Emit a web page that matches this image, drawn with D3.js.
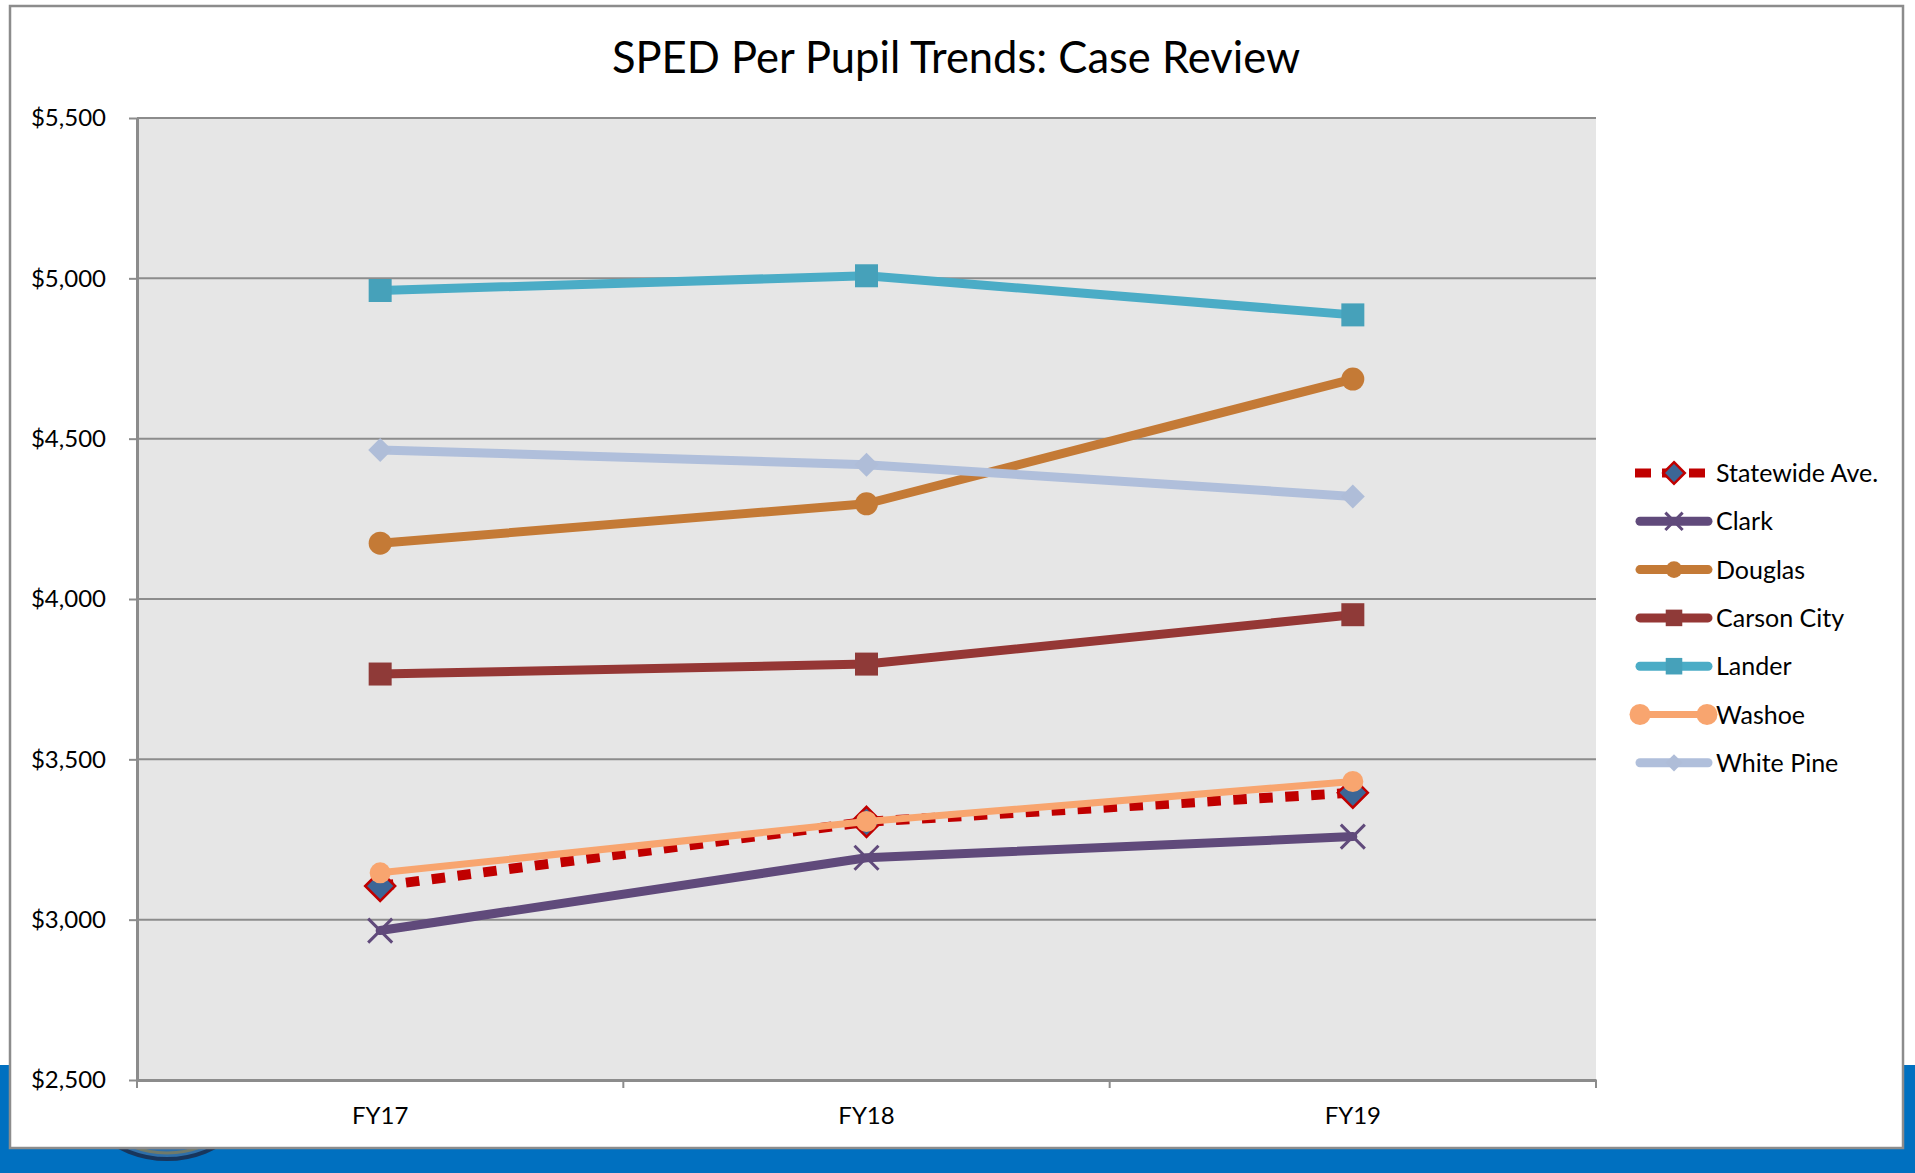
<!DOCTYPE html>
<html>
<head>
<meta charset="utf-8">
<script src="https://cdn.jsdelivr.net/npm/d3@7"></script>
<style>
  body { margin: 0; background: #fff; }
  svg { display: block; font-family: Lato, "Open Sans", sans-serif; }
</style>
</head>
<body>
<svg id="chart"></svg>
<script>
// chart values
const years = ["FY17", "FY18", "FY19"];
const seriesNames = ["Statewide Ave.", "Clark", "Douglas", "Carson City", "Lander", "Washoe", "White Pine"];
const statewideAve = [3105, 3305, 3396];
const clark = [2966, 3193, 3259];
const douglas = [4174, 4297, 4686];
const carsonCity = [3766, 3797, 3951];
const lander = [4962, 5008, 4886];
const washoe = [3146, 3306, 3431];
const whitePine = [4465, 4419, 4320];
const yTicks = [2500, 3000, 3500, 4000, 4500, 5000, 5500];

const width = 1915;
const height = 1173;
const plot = { left: 137, right: 1596, top: 118, bottom: 1080 };

const svg = d3.select("#chart").attr("width", width).attr("height", height);

// page background: blue band with a seal peeking under the chart frame
svg.append("rect").attr("width", width).attr("height", height).attr("fill", "#fff");
svg.append("rect").attr("x", 0).attr("y", 1065).attr("width", width).attr("height", height - 1065).attr("fill", "#0070C0");
svg.append("circle").attr("cx", 167).attr("cy", 1056).attr("r", 103)
  .attr("fill", "#2f6fa8").attr("stroke", "#17365d").attr("stroke-width", 4);
svg.append("circle").attr("cx", 167).attr("cy", 1056).attr("r", 97)
  .attr("fill", "none").attr("stroke", "#6f7a6a").attr("stroke-width", 3);

// chart frame
svg.append("rect")
  .attr("x", 10).attr("y", 6).attr("width", 1893).attr("height", 1142)
  .attr("fill", "#fff").attr("stroke", "#8c8c8c").attr("stroke-width", 2.5);

svg.append("text")
  .attr("x", 956).attr("y", 73)
  .attr("text-anchor", "middle")
  .style("font-size", "43.5px")
  .attr("fill", "#000")
  .text("SPED Per Pupil Trends: Case Review");

const x = d3.scaleBand().domain(years).range([plot.left, plot.right]);
const y = d3.scaleLinear().domain([2500, 5500]).range([plot.bottom, plot.top]);
const xc = (i) => x(years[i]) + x.bandwidth() / 2;

svg.append("rect")
  .attr("x", plot.left).attr("y", plot.top)
  .attr("width", plot.right - plot.left).attr("height", plot.bottom - plot.top)
  .attr("fill", "#E6E6E6");

// gridlines
svg.append("g")
  .selectAll("line")
  .data(yTicks)
  .join("line")
  .attr("x1", plot.left).attr("x2", plot.right)
  .attr("y1", (d) => y(d)).attr("y2", (d) => y(d))
  .attr("stroke", "#8c8c8c").attr("stroke-width", 2);

// y axis
const yAxis = svg.append("g")
  .attr("transform", `translate(${plot.left},0)`)
  .call(d3.axisLeft(y).tickValues(yTicks).tickSize(8).tickSizeOuter(0).tickPadding(23).tickFormat(d3.format("$,")));
yAxis.select(".domain").attr("stroke", "#8c8c8c").attr("stroke-width", 3);
yAxis.selectAll(".tick line").attr("stroke", "#8c8c8c").attr("stroke-width", 2);
yAxis.selectAll(".tick text").attr("fill", "#000").style("font-size", "24px").style("font-family", "Lato, sans-serif");

// x axis: category labels plus boundary ticks
const xAxis = svg.append("g")
  .attr("transform", `translate(0,${plot.bottom})`)
  .call(d3.axisBottom(x).tickSize(0).tickPadding(27));
xAxis.select(".domain").attr("stroke", "#8c8c8c").attr("stroke-width", 3);
xAxis.selectAll(".tick text").attr("fill", "#000").style("font-size", "24px").style("font-family", "Lato, sans-serif");
xAxis.selectAll(".bound")
  .data(years.map((d) => x(d)).concat([plot.right]))
  .join("line")
  .attr("class", "bound")
  .attr("x1", (d) => d).attr("x2", (d) => d)
  .attr("y1", 0).attr("y2", 8)
  .attr("stroke", "#8c8c8c").attr("stroke-width", 2);

// marker shapes
function diamond(r) { return `M0,${-r}L${r},0L0,${r}L${-r},0Z`; }
function cross(r) { return `M${-r},${-r}L${r},${r}M${-r},${r}L${r},${-r}`; }
function square(s) { return `M${-s},${-s}H${s}V${s}H${-s}Z`; }
function circle(r) { return d3.symbol(d3.symbolCircle, Math.PI * r * r)(); }

const series = [
  { name: seriesNames[0], values: statewideAve, color: "#C00000", width: 10, dash: "13.5 12.5",
    marker: (k) => diamond(15 * k), fill: "#3C6696", stroke: "#C00000", sw: 2.5 },
  { name: seriesNames[1], values: clark, color: "#604A7B", width: 9,
    marker: (k) => cross(12 * k), fill: "none", stroke: "#604A7B", sw: 3 },
  { name: seriesNames[2], values: douglas, color: "#C47A36", width: 9,
    marker: (k) => circle(11.5 * k), fill: "#C47A36", stroke: "none", sw: 0 },
  { name: seriesNames[3], values: carsonCity, color: "#953735", width: 9,
    marker: (k) => square(11.5 * k), fill: "#8F3A38", stroke: "none", sw: 0 },
  { name: seriesNames[4], values: lander, color: "#4BACC6", width: 9,
    marker: (k) => square(11.5 * k), fill: "#46A1BA", stroke: "none", sw: 0 },
  { name: seriesNames[5], values: washoe, color: "#F8A56F", width: 7,
    marker: (k) => circle(10.5 * k), fill: "#F8A56F", stroke: "none", sw: 0 },
  { name: seriesNames[6], values: whitePine, color: "#B0BFDB", width: 9,
    marker: (k) => diamond(12 * k), fill: "#AFBDD8", stroke: "none", sw: 0 }
];

const line = d3.line().x((d, i) => xc(i)).y((d) => y(d));

series.forEach((s) => {
  const g = svg.append("g");
  g.append("path")
    .attr("d", line(s.values))
    .attr("fill", "none")
    .attr("stroke", s.color)
    .attr("stroke-width", s.width)
    .attr("stroke-linejoin", "round")
    .attr("stroke-linecap", s.dash ? "butt" : "round")
    .attr("stroke-dasharray", s.dash || null);
  g.selectAll("path.marker")
    .data(s.values)
    .join("path")
    .attr("class", "marker")
    .attr("transform", (d, i) => `translate(${xc(i)},${y(d)})`)
    .attr("d", s.marker(1))
    .attr("fill", s.fill)
    .attr("stroke", s.stroke)
    .attr("stroke-width", s.sw);
});

// legend
const legend = svg.append("g").attr("transform", "translate(1635,473)");
const rowGap = 48.3;
series.forEach((s, i) => {
  const row = legend.append("g").attr("transform", `translate(0,${i * rowGap})`);
  row.append("line")
    .attr("x1", s.dash ? 0 : 5).attr("x2", s.dash ? 78 : 73)
    .attr("stroke", s.color)
    .attr("stroke-width", s.dash ? 9 : s.width)
    .attr("stroke-linecap", s.dash ? "butt" : "round")
    .attr("stroke-dasharray", s.dash ? "16 11" : null);
  const spots = s.name === "Washoe" ? [5, 72] : [39];
  const k = s.name === "Washoe" ? 1 : 0.72;
  spots.forEach((px) => {
    row.append("path")
      .attr("transform", `translate(${px},0)`)
      .attr("d", s.marker(k))
      .attr("fill", s.fill)
      .attr("stroke", s.stroke)
      .attr("stroke-width", s.sw);
  });
  row.append("text")
    .attr("x", 81).attr("dy", "0.36em")
    .style("font-size", "25px")
    .attr("fill", "#000")
    .text(s.name);
});
</script>
</body>
</html>
